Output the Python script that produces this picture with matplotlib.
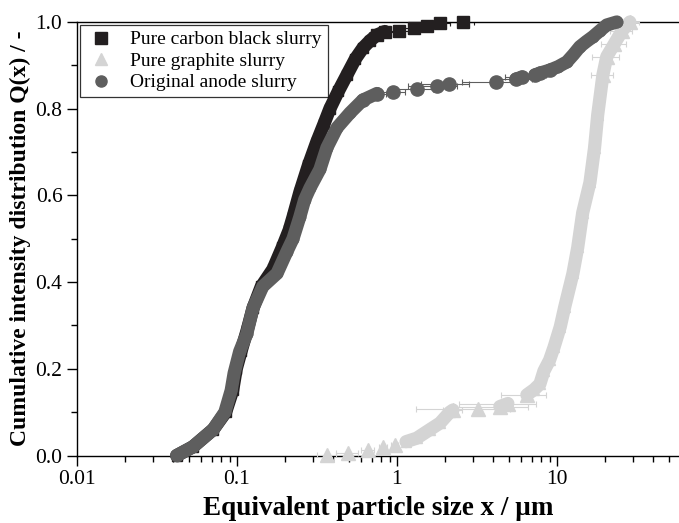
import numpy as np
import matplotlib
matplotlib.use("Agg")
import matplotlib.pyplot as plt
from matplotlib.ticker import LogLocator, FixedLocator, NullFormatter

plt.rcParams['font.family'] = ['Liberation Serif', 'DejaVu Serif']

nan = np.nan

# ---- Pure carbon black slurry ----
cb_curve_x = [0.042, 0.053, 0.071, 0.085, 0.094, 0.099, 0.106, 0.116, 0.126, 0.142,
              0.168, 0.192, 0.212, 0.224, 0.2475, 0.28, 0.316, 0.35, 0.381, 0.43,
              0.487, 0.55, 0.613, 0.68, 0.75, 0.841]
cb_curve_q = [0.0, 0.02, 0.06, 0.10, 0.15, 0.20, 0.24, 0.29, 0.34, 0.39,
              0.43, 0.48, 0.52, 0.55, 0.608, 0.67, 0.724, 0.765, 0.80, 0.84,
              0.878, 0.915, 0.94, 0.957, 0.97, 0.978]
cb_pts_x = [0.75, 0.841, 1.03, 1.277, 1.54, 1.857, 2.585]
cb_pts_q = [0.97, 0.978, 0.98, 0.985, 0.99, 0.997, 1.0]
cb_pts_err = [0.08, 0.12, 0.15, 0.2, 0.25, 0.3, 0.45]

# ---- Pure graphite slurry ----
gr_curve_x = [1.14, 1.33, 1.61, 1.86, 2.14, 2.24, nan,
              4.4, 4.94, nan,
              6.49, 7.2, 7.83, 8.3, 9.0, 9.6, 10.5, 11.2, 12.6, 13.5, 14.5, 16.1,
              17.2, 18.0, 19.4, 20.5, 22.9, 25.6, 28.6]
gr_curve_q = [0.032, 0.04, 0.06, 0.075, 0.10, 0.105, nan,
              0.113, 0.12, nan,
              0.14, 0.152, 0.165, 0.195, 0.22, 0.25, 0.297, 0.343, 0.42, 0.48, 0.56, 0.63,
              0.71, 0.786, 0.878, 0.92, 0.95, 0.98, 1.0]
gr_pts_x = [0.365, 0.494, 0.659, 0.818, 0.972, 2.24, 3.21, 4.4, 4.94, 6.49,
            19.4, 20.5, 22.9, 25.6, 28.6]
gr_pts_q = [0.002, 0.005, 0.012, 0.02, 0.025, 0.105, 0.107, 0.113, 0.12, 0.14,
            0.878, 0.92, 0.95, 0.98, 1.0]
gr_pts_err = [0.05, 0.08, 0.06, 0.05, 0.05, 0.3, 1.9, 2.2, 2.5, 2.0,
              3.0, 4.0, 4.0, 4.0, 4.0]

# ---- Original anode slurry ----
an_curve_x = [0.042, 0.053, 0.071, 0.084, 0.092, 0.096, 0.104, 0.115, 0.126, 0.145,
              0.178, 0.205, 0.224, 0.247, 0.265, 0.286, 0.33, 0.365, 0.422, 0.508,
              0.613, 0.75, nan,
              5.54, 6.04, nan,
              7.29, 7.83, 9.04, 10.2, 11.55, 12.7, 13.92, 15.3, 16.8, 18.6, 20.5, 23.7]
an_curve_q = [0.0, 0.02, 0.06, 0.10, 0.15, 0.19, 0.24, 0.28, 0.34, 0.39,
              0.42, 0.47, 0.50, 0.55, 0.59, 0.617, 0.66, 0.71, 0.756, 0.79,
              0.82, 0.835, nan,
              0.868, 0.873, nan,
              0.878, 0.882, 0.889, 0.897, 0.908, 0.925, 0.943, 0.955, 0.966, 0.98, 0.993, 1.0]
an_pts_x = [0.613, 0.75, 0.944, 1.334, 1.778, 2.113, 4.16, 5.54, 6.04, 7.29, 7.83, 9.04]
an_pts_q = [0.82, 0.835, 0.838, 0.845, 0.853, 0.857, 0.862, 0.868, 0.873, 0.878, 0.882, 0.889]
an_pts_err = [0.05, 0.1, 0.18, 0.35, 0.6, 0.7, 1.6, 1.5, 1.3, 1.2, 1.0, 0.8]

labels = ["Pure carbon black slurry", "Pure graphite slurry", "Original anode slurry"]
colors = ["#231f20", "#d4d4d4", "#5e5e5e"]
markers = ["s", "^", "o"]

fig = plt.figure(figsize=(6.79, 5.23), dpi=100)
ax = fig.add_axes([0.1134, 0.129, 0.8866, 0.829])

series = [
    (cb_curve_x, cb_curve_q, cb_pts_x, cb_pts_q, cb_pts_err),
    (gr_curve_x, gr_curve_q, gr_pts_x, gr_pts_q, gr_pts_err),
    (an_curve_x, an_curve_q, an_pts_x, an_pts_q, an_pts_err),
]
order = [1, 0, 2]
handles = [None] * 3
for i in order:
    cx, cq, px, pq, pe = series[i]
    c = colors[i]
    ax.errorbar(px, pq, xerr=pe, fmt='none', ecolor=c, elinewidth=0.8,
                capsize=2.5, capthick=0.8, zorder=2 + i)
    ax.plot(cx, cq, '-', color=c, lw=9.5, solid_capstyle='round',
            solid_joinstyle='round', zorder=3 + i, clip_on=False)
    ax.plot(cx, cq, linestyle='none', marker=markers[i], ms=7.5, color=c,
            zorder=3 + i, clip_on=False)
    ax.plot(px, pq, linestyle='none', marker=markers[i],
            ms=9.5 if markers[i] != 's' else 8, color=c, zorder=3 + i, clip_on=False)
    handles[i], = ax.plot([], [], linestyle='none', marker=markers[i], ms=8,
                          color=c, label=labels[i])

ax.set_xscale('log')
ax.set_xlim(0.01, 58)
ax.set_ylim(0.0, 1.0)
ax.xaxis.set_major_locator(FixedLocator([0.01, 0.1, 1, 10]))
ax.set_xticklabels(["0.01", "0.1", "1", "10"])
ax.xaxis.set_minor_locator(LogLocator(base=10, subs=np.arange(2, 10), numticks=20))
ax.xaxis.set_minor_formatter(NullFormatter())
ax.set_yticks([0.0, 0.2, 0.4, 0.6, 0.8, 1.0])
ax.set_yticklabels(["0.0", "0.2", "0.4", "0.6", "0.8", "1.0"])
ax.set_yticks([0.1, 0.3, 0.5, 0.7, 0.9], minor=True)

ax.tick_params(which='major', direction='out', length=7, width=1.0, labelsize=15.5,
               colors='black')
ax.tick_params(which='minor', direction='out', length=4, width=1.0)
ax.spines['right'].set_visible(False)
for s in ['left', 'bottom', 'top']:
    ax.spines[s].set_linewidth(1.0)

ax.set_xlabel("Equivalent particle size x / µm", fontsize=19.5, fontweight='bold',
              labelpad=5)
ax.set_ylabel("Cumulative intensity distribution Q(x) / -", fontsize=17,
              fontweight='bold', labelpad=3)

leg = ax.legend(handles=handles, loc='upper left', fontsize=14, frameon=True,
                fancybox=False, edgecolor='black', borderaxespad=0.15,
                handletextpad=0.7, borderpad=0.3, labelspacing=0.2,
                handlelength=1.6)
leg.get_frame().set_linewidth(0.9)
leg.set_zorder(10)

fig.savefig("out.png", dpi=100)
